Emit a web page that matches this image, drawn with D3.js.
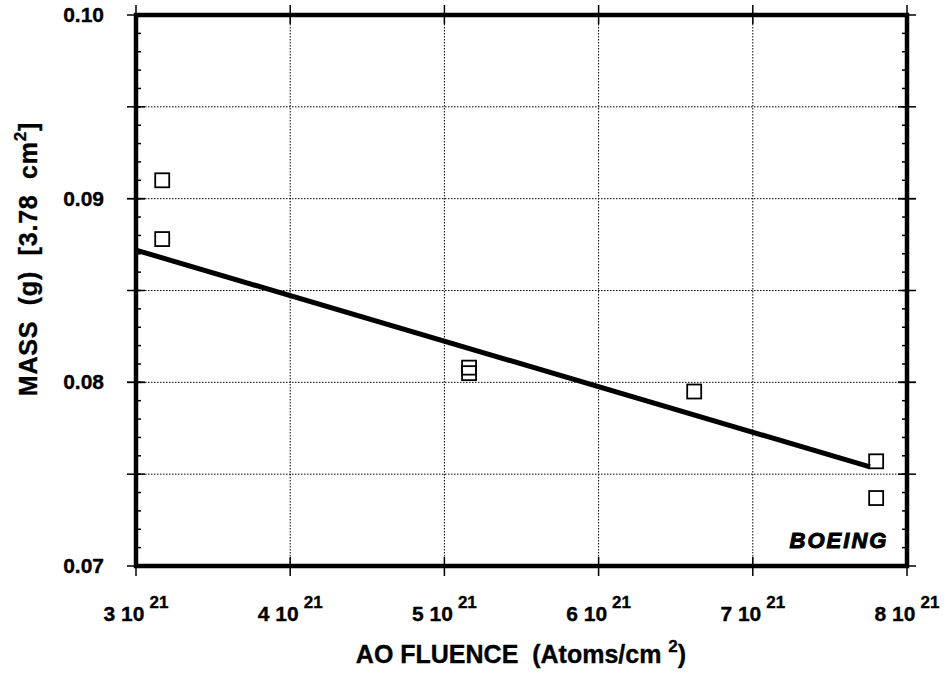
<!DOCTYPE html>
<html><head><meta charset="utf-8">
<script src="https://cdn.jsdelivr.net/npm/d3@7"></script>
<style>body{margin:0;background:#fff;} text{font-family:"Liberation Sans",Arial,Helvetica,sans-serif;font-weight:bold;fill:#000;stroke:#000;stroke-width:0.35px;}</style>
</head><body><svg id="c" width="946" height="676"></svg>
<script>
// data (fluence in units of 10^21 atoms/cm^2, mass in g)
const fluence = [3.17, 3.17, 5.16, 5.16, 6.62, 7.80, 7.80];
const mass    = [0.0910, 0.0878, 0.0808, 0.0805, 0.0795, 0.0757, 0.0737];
const fitX = [3.0, 7.76];
const fitY = [0.0872, 0.0754];
const xTicks = [3, 4, 5, 6, 7, 8];
const yTicks = [0.07, 0.08, 0.09, 0.10];
const yGrid = [0.075, 0.08, 0.085, 0.09, 0.095];
const yMinor = d3.range(71, 100).map(v => v / 1000);

const svg = d3.select("#c");
const L = 136, R = 907, T = 15, B = 566;
const x = d3.scaleLinear().domain([3, 8]).range([L, R]);
const y = d3.scaleLinear().domain([0.07, 0.10]).range([B, T]);

// grid
const g = svg.append("g");
g.selectAll(".vg").data(xTicks.slice(1, -1)).enter().append("line")
  .attr("x1", d => x(d)).attr("x2", d => x(d)).attr("y1", T).attr("y2", B)
  .attr("stroke", "#000").attr("stroke-width", 1).attr("stroke-dasharray", "1.5,1.5");
g.selectAll(".hg").data(yGrid).enter().append("line")
  .attr("y1", d => y(d)).attr("y2", d => y(d)).attr("x1", L).attr("x2", R)
  .attr("stroke", "#000").attr("stroke-width", 1).attr("stroke-dasharray", "1.5,1.5");

// minor ticks (inward on left and right)
g.selectAll(".ml").data(yMinor).enter().append("line")
  .attr("x1", L).attr("x2", L + 5).attr("y1", d => y(d)).attr("y2", d => y(d))
  .attr("stroke", "#000").attr("stroke-width", 1.5);
g.selectAll(".mr").data(yMinor).enter().append("line")
  .attr("x1", R - 5).attr("x2", R).attr("y1", d => y(d)).attr("y2", d => y(d))
  .attr("stroke", "#000").attr("stroke-width", 1.5);

// major ticks crossing the frame
const yMaj = yTicks.concat(yGrid);
g.selectAll(".tl").data(yMaj).enter().append("line")
  .attr("x1", L - 9).attr("x2", L + 9).attr("y1", d => y(d)).attr("y2", d => y(d))
  .attr("stroke", "#000").attr("stroke-width", 1.5);
g.selectAll(".tr").data(yMaj).enter().append("line")
  .attr("x1", R - 9).attr("x2", R + 9).attr("y1", d => y(d)).attr("y2", d => y(d))
  .attr("stroke", "#000").attr("stroke-width", 1.5);
g.selectAll(".tb").data(xTicks).enter().append("line")
  .attr("x1", d => x(d)).attr("x2", d => x(d)).attr("y1", B - 9).attr("y2", B + 10)
  .attr("stroke", "#000").attr("stroke-width", 1.5);
g.selectAll(".tt").data(xTicks).enter().append("line")
  .attr("x1", d => x(d)).attr("x2", d => x(d)).attr("y1", T - 10).attr("y2", T + 9)
  .attr("stroke", "#000").attr("stroke-width", 1.5);

// frame
g.append("rect").attr("x", L).attr("y", T).attr("width", R - L).attr("height", B - T)
  .attr("fill", "none").attr("stroke", "#000").attr("stroke-width", 4.5);

// fit line
svg.append("line")
  .attr("x1", x(fitX[0])).attr("y1", y(fitY[0])).attr("x2", x(fitX[1])).attr("y2", y(fitY[1]))
  .attr("stroke", "#000").attr("stroke-width", 5);

// points
const s = 14;
svg.selectAll(".pt").data(fluence.map((f, i) => [f, mass[i]])).enter().append("rect")
  .attr("x", d => x(d[0]) - s / 2).attr("y", d => y(d[1]) - s / 2)
  .attr("width", s).attr("height", s)
  .attr("fill", "none").attr("stroke", "#000").attr("stroke-width", 1.8);

// y tick labels
svg.selectAll(".yl").data(yTicks).enter().append("text")
  .attr("x", 104).attr("y", d => y(d) + 7).attr("text-anchor", "end")
  .style("font-size", "21px").text(d => d.toFixed(2));

// x tick labels
const xl = svg.selectAll(".xl").data(xTicks).enter().append("text")
  .attr("x", d => x(d)).attr("y", 621).attr("text-anchor", "middle")
  .style("font-size", "21px");
xl.append("tspan").text(d => d + "\u00a010");
xl.append("tspan").attr("dy", -13).attr("dx", 5).style("font-size", "17px").text("21");

// x title
const xt = svg.append("text").attr("x", 521).attr("y", 663).attr("text-anchor", "middle")
  .style("font-size", "25px");
xt.append("tspan").text("AO FLUENCE\u00a0\u00a0(Atoms/cm\u00a0");
xt.append("tspan").attr("dy", -11).style("font-size", "17px").text("2");
xt.append("tspan").attr("dy", 11).text(")");

// y title
const yt = svg.append("text").attr("transform", "translate(37,259) rotate(-90)")
  .attr("text-anchor", "middle").style("font-size", "25px").style("letter-spacing", "0.8px");
yt.append("tspan").text("MASS\u00a0\u00a0(g)\u00a0\u00a0[3.78\u00a0\u00a0cm");
yt.append("tspan").attr("dy", -11).style("font-size", "17px").text("2");
yt.append("tspan").attr("dy", 11).text("]");

// logo
svg.append("text").attr("x", 839).attr("y", 548).attr("text-anchor", "middle")
  .style("font-size", "22px").style("font-style", "italic").style("font-weight", "900")
  .style("stroke-width", "1px")
  .style("letter-spacing", "2px").text("BOEING");
</script></body></html>
